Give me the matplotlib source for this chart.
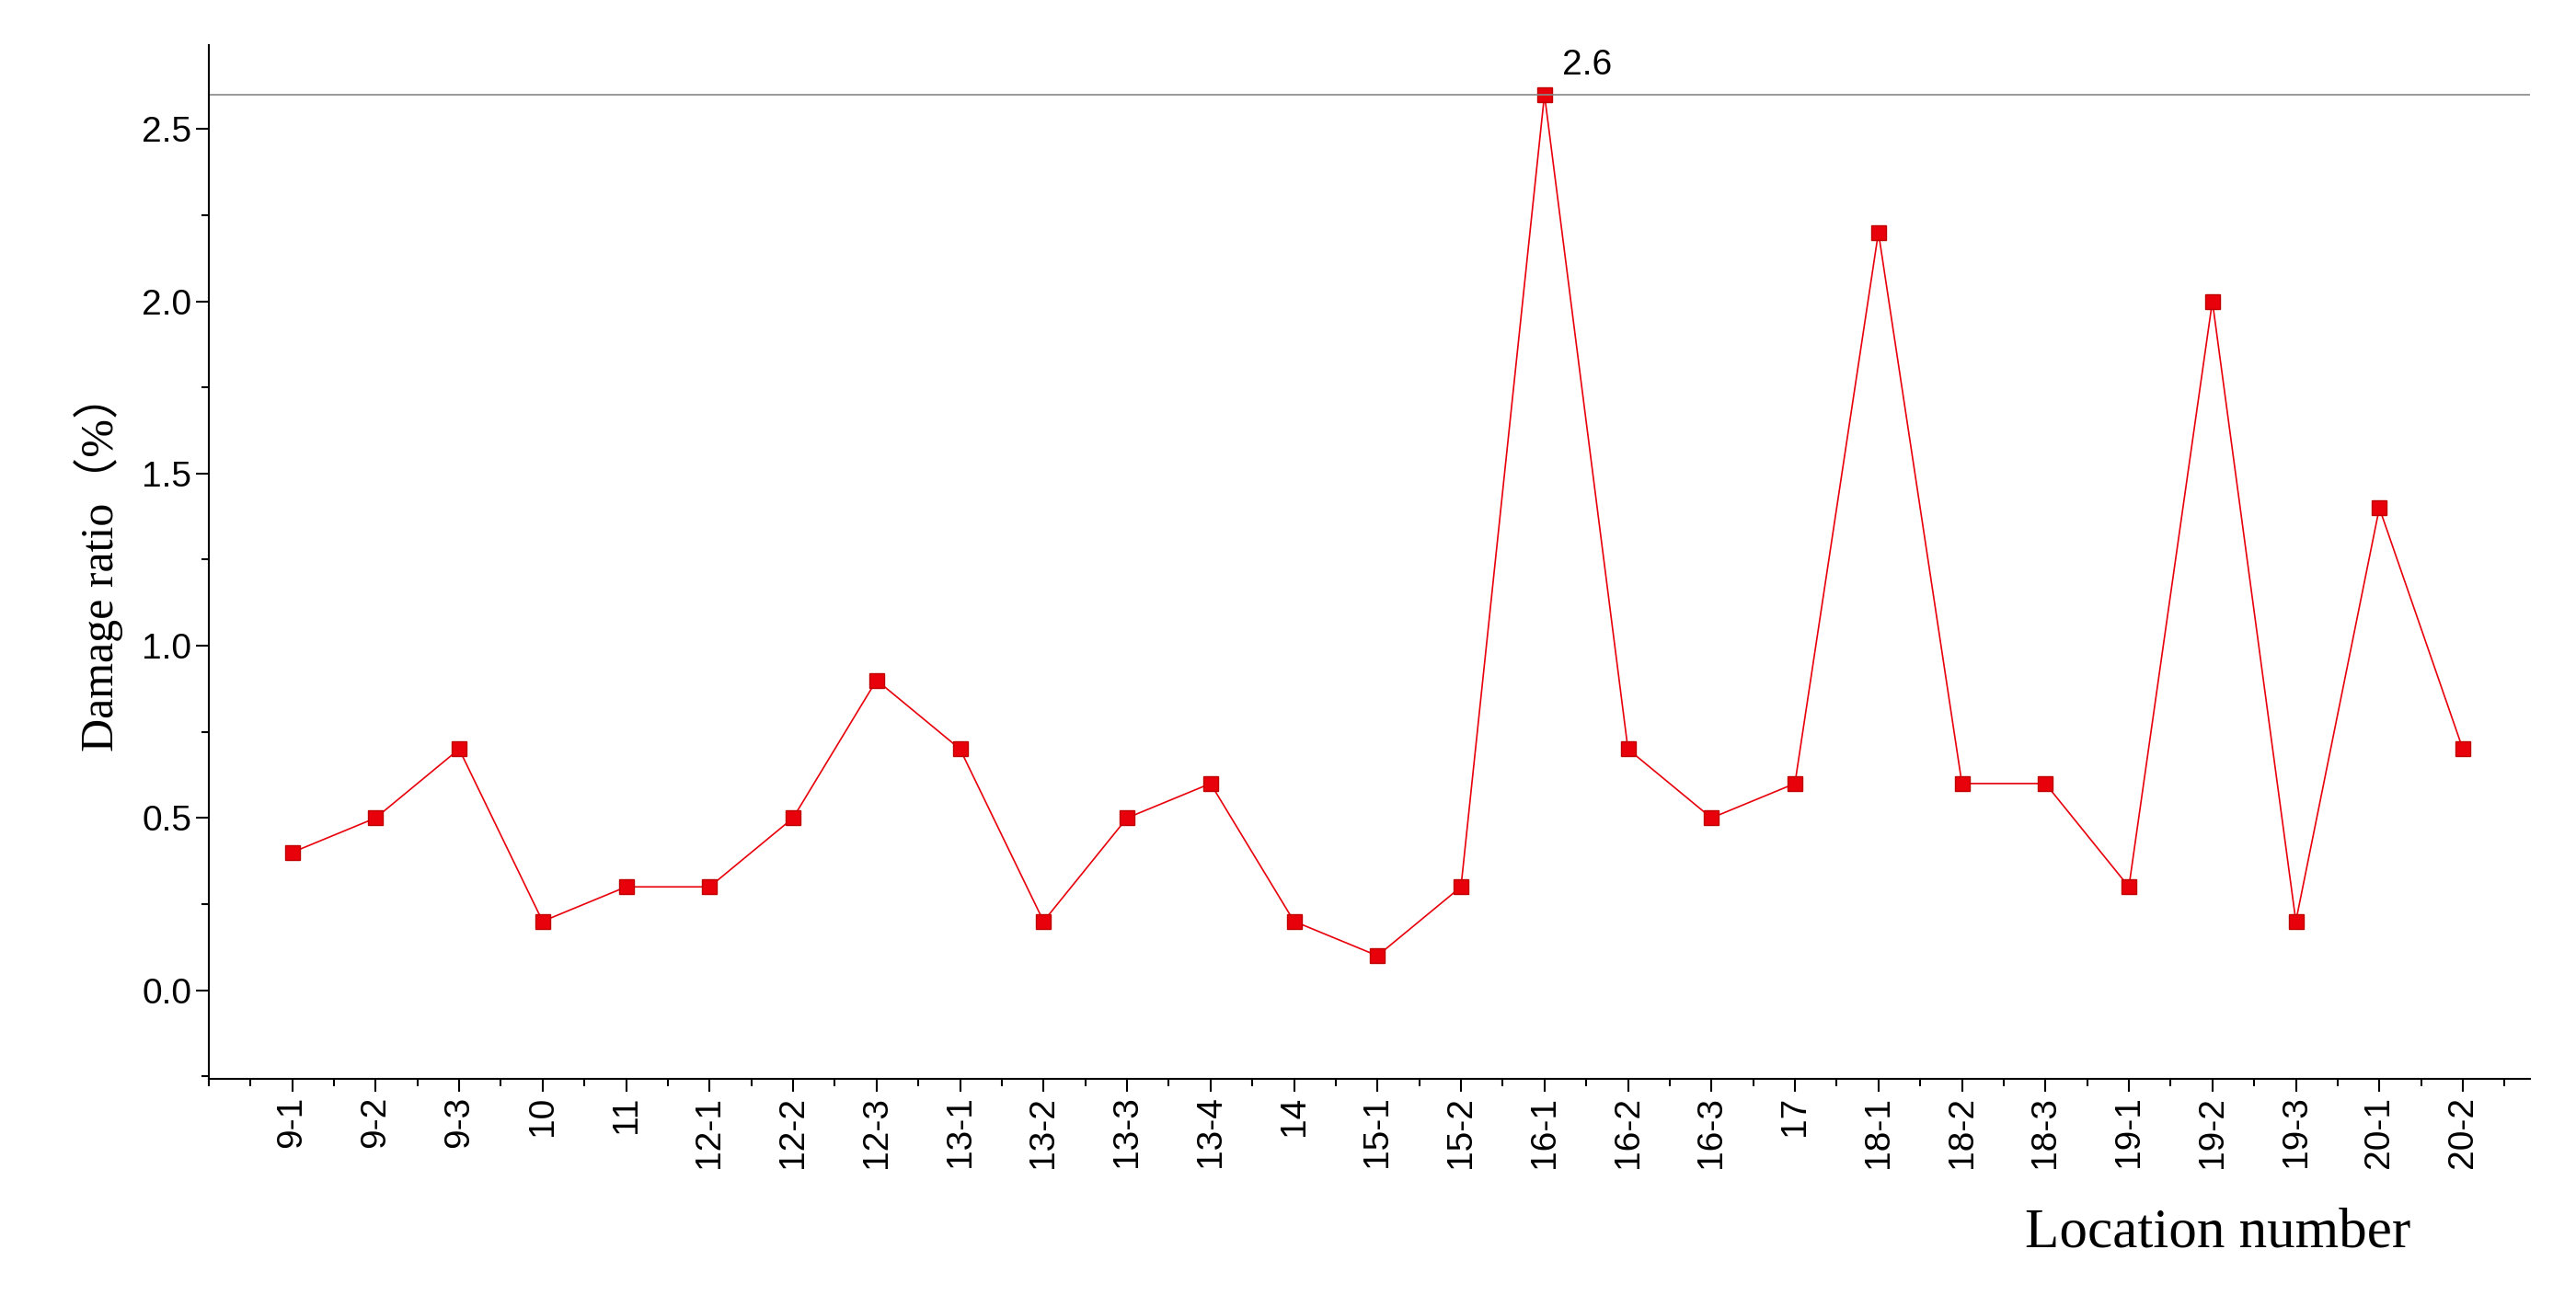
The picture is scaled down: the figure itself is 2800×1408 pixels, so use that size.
import matplotlib
matplotlib.use("Agg")
import matplotlib.pyplot as plt
from matplotlib.ticker import MultipleLocator

locations = ["9-1","9-2","9-3","10","11","12-1","12-2","12-3","13-1","13-2","13-3","13-4","14","15-1","15-2",
             "16-1","16-2","16-3","17","18-1","18-2","18-3","19-1","19-2","19-3","20-1","20-2"]
ratios = [0.4,0.5,0.7,0.2,0.3,0.3,0.5,0.9,0.7,0.2,0.5,0.6,0.2,0.1,0.3,
          2.6,0.7,0.5,0.6,2.2,0.6,0.6,0.3,2.0,0.2,1.4,0.7]
max_val = 2.6

plt.rcParams['font.family'] = ['Liberation Sans', 'DejaVu Sans']
fig = plt.figure(figsize=(28, 14.08), dpi=100)
ax = fig.add_axes([0.081, 0.167, 0.901, 0.798])
x = list(range(len(locations)))
ax.plot(x, ratios, color="#e8000b", lw=1.2, marker="s", ms=11, mfc="#e8000b", mec="#c00000")
ax.axhline(max_val, color="#888888", lw=1.2)
imax = ratios.index(max_val)
ax.annotate(f"{max_val}", (imax, max_val), xytext=(14, 10), textcoords="offset points",
            fontsize=28, ha="left", va="bottom")
ax.set_xlim(-1.0, 26.8)
ax.set_ylim(-0.257, 2.743)
ax.set_xticks(x)
ax.set_xticklabels(locations, rotation=90, fontsize=28)
ax.xaxis.set_minor_locator(MultipleLocator(0.5))
ax.yaxis.set_major_locator(MultipleLocator(0.5))
ax.yaxis.set_minor_locator(MultipleLocator(0.25))
ax.yaxis.set_major_formatter(matplotlib.ticker.FormatStrFormatter("%.1f"))
ax.tick_params(axis="y", labelsize=28)
ax.tick_params(which="major", direction="out", length=10, width=1.5)
ax.tick_params(which="minor", direction="out", length=6, width=1.5)
for s in ["top", "right"]:
    ax.spines[s].set_visible(False)
for s in ["left", "bottom"]:
    ax.spines[s].set_linewidth(1.5)
ax.set_ylabel("Damage ratio（%）", family=["Liberation Serif", "Noto Sans CJK SC"], fontsize=36, labelpad=14)
fig.text(0.861, 0.048, "Location number", family="Liberation Serif", fontsize=44, ha="center", va="center")
fig.savefig("out.png", dpi=100)
